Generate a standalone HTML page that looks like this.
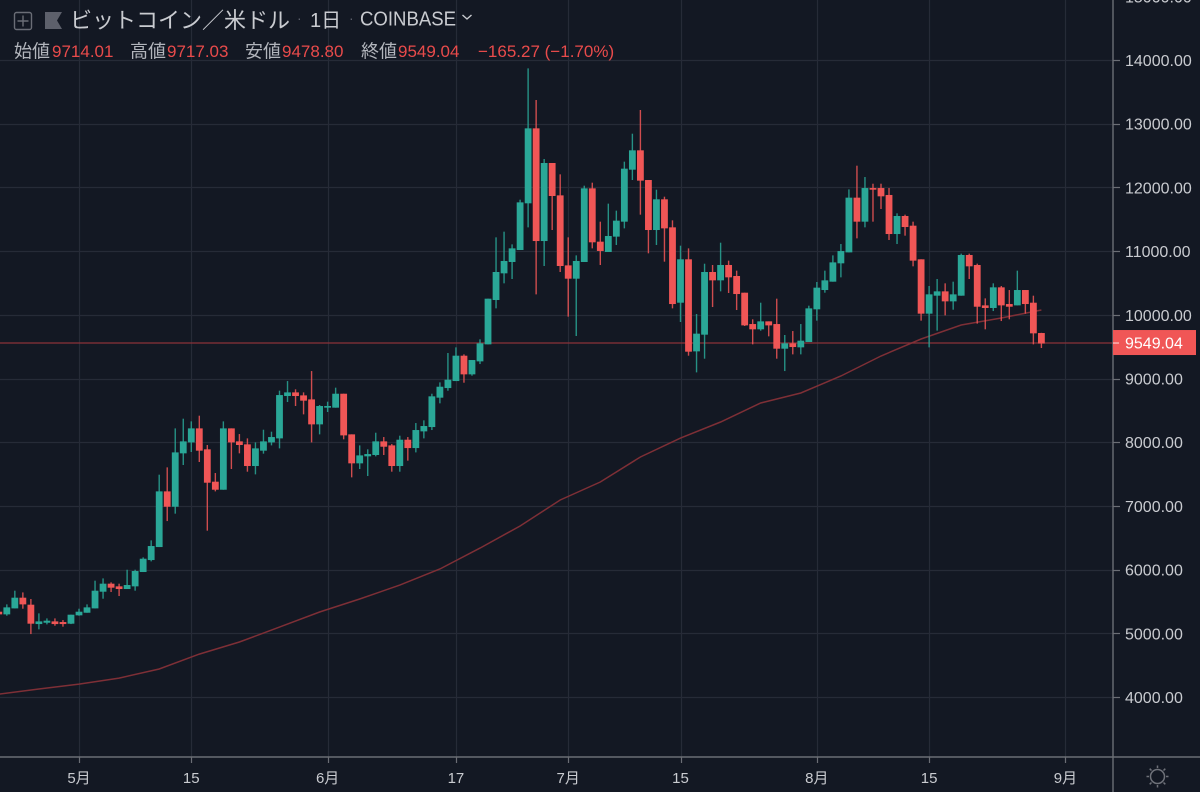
<!DOCTYPE html>
<html lang="ja">
<head>
<meta charset="utf-8">
<title>ビットコイン／米ドル 1日 COINBASE</title>
<style>
html,body{margin:0;padding:0;background:#131823;width:1200px;height:792px;overflow:hidden}
svg{display:block;font-family:"Liberation Sans","Noto Sans CJK JP",sans-serif;filter:blur(0.35px)}
</style>
</head>
<body>
<svg id="chart" width="1200" height="792" viewBox="0 0 1200 792" xmlns="http://www.w3.org/2000/svg">
  <rect x="0" y="0" width="1200" height="792" fill="#131823"/>
  <defs><clipPath id="pane-clip"><rect x="0" y="0" width="1113" height="757"/></clipPath></defs>
  <g id="grid"></g>
  <g id="plot" clip-path="url(#pane-clip)"></g>
  <g id="axes"></g>

  <g>
    <g fill="none" stroke="#6a6d76" stroke-width="1.4">
      <rect x="14.500" y="12.500" width="17" height="17" rx="2"/>
      <path d="M23 15.500V26.500M17.500 21H28.500"/>
    </g>
    <path d="M45 12H62L57 20.500L62 29H45Z" fill="#5d606b"/>
    <text x="70" y="28" font-size="22" fill="#c9cbd0">ビットコイン／米ドル</text>
    <text x="297" y="23" font-size="14" fill="#5d606b">·</text>
    <text x="310" y="27" font-size="20" fill="#c9cbd0">1日</text>
    <text x="349" y="23" font-size="14" fill="#5d606b">·</text>
    <text x="360" y="25.500" font-size="20" textLength="96" lengthAdjust="spacingAndGlyphs" fill="#c9cbd0">COINBASE</text>
    <path d="M462.500 15L467 19L471.500 15" fill="none" stroke="#c9cbd0" stroke-width="1.4"/>
    <g font-size="17">
      <text x="14" y="57.500" font-size="18" fill="#b2b5bc">始値</text>
      <text x="52" y="57" fill="#e94b4b">9714.01</text>
      <text x="130" y="57.500" font-size="18" fill="#b2b5bc">高値</text>
      <text x="167" y="57" fill="#e94b4b">9717.03</text>
      <text x="245" y="57.500" font-size="18" fill="#b2b5bc">安値</text>
      <text x="282" y="57" fill="#e94b4b">9478.80</text>
      <text x="361" y="57.500" font-size="18" fill="#b2b5bc">終値</text>
      <text x="398" y="57" fill="#e94b4b">9549.04</text>
      <text x="478" y="57" fill="#e94b4b">−165.27 (−1.70%)</text>
    </g>
  </g>

  <g fill="none" stroke="#6e7179" stroke-width="1.5">
    <circle cx="1157.500" cy="776.500" r="7"/>
    <path d="M1157.500 765.500V768M1157.500 785V787.500M1146.500 776.500H1149M1166 776.500H1168.500M1149.700 768.700L1151.500 770.500M1163.500 782.500L1165.300 784.300M1149.700 784.300L1151.500 782.500M1163.500 770.500L1165.300 768.700"/>
  </g>

<script>
var firstDay = -10;
var opens = [5339,5297,5391,5559,5449,5145,5166,5187,5177,5151,
5282,5323,5391,5653,5779,5737,5695,5737,5962,6150,
6354,7228,6987,7825,7997,8217,7888,7380,7254,8217,
8013,7966,7626,7867,7997,8060,8725,8782,8735,8672,
8280,8542,8542,8761,8123,7668,7778,7799,8013,7950,
7626,8039,7908,8170,8238,8699,8850,8960,9358,9065,
9269,9536,10232,10651,10829,11017,11750,12927,11158,12383,
11875,10776,10567,10829,11985,11148,10986,11227,11462,12278,
12582,12116,11331,11813,11373,10190,10871,9426,9688,10672,
10541,10782,10609,10347,9855,9772,9897,9855,9468,9552,
9489,9573,10086,10389,10520,10808,10980,11839,11462,11990,
11990,11881,11268,11551,11399,10871,10018,10300,10368,10211,
10300,10939,10782,10148,10107,10431,10169,10148,10389,10190,9714.01];
var highs = [5365,5454,5669,5642,5538,5313,5234,5234,5208,5292,
5386,5454,5826,5862,5800,5779,5998,5998,6192,6459,
7490,7605,8217,8369,8327,8416,7956,7516,8327,8217,
8128,8060,7997,8196,8165,8809,8960,8830,8782,9117,
8584,8636,8856,8761,8123,7950,7888,8149,8081,7971,
8102,8081,8301,8343,8761,8939,9400,9489,9379,9290,
9615,10253,11216,11305,11106,11807,13869,13372,12446,12383,
12205,11216,10933,12027,12074,11462,11745,11635,12404,12843,
13215,12116,11964,11854,11483,11085,11043,10012,10802,10782,
11132,10850,10693,10347,9929,10190,9897,10253,9683,9745,
9855,10143,10515,10693,10933,11111,11969,12341,12163,12058,
12058,11990,11593,11572,11462,10871,10452,10562,10494,10520,
10960,10960,10803,10258,10494,10452,10389,10693,10389,10300,9717.03];
var lows = [5276,5276,5391,5386,4988,5062,5140,5119,5104,5145,
5276,5323,5391,5543,5648,5585,5695,5669,5962,6129,
6354,6762,6878,7642,7846,7689,6611,7228,7254,7579,
7825,7537,7495,7820,7950,7903,8631,8568,8437,7997,
8123,8474,8542,8045,7448,7579,7469,7778,7799,7537,
7537,7710,7840,8060,8191,8610,8808,8960,8934,9044,
9227,9536,10101,10494,10562,11017,11373,10321,10766,11331,
10672,9971,9667,10829,11043,10782,10986,11096,11357,12116,
11572,10965,11096,10834,10101,9887,9358,9096,9311,10122,
10368,10342,10075,9824,9536,9751,9662,9311,9117,9379,
9379,9573,9908,10347,10520,10588,10980,11200,11373,11462,
11661,11174,11111,11242,10761,9908,9489,9751,9991,10080,
10300,10562,9861,9772,10059,9902,9929,10148,10018,9536,9478.80];
var closes = [5297,5407,5559,5454,5151,5187,5198,5145,5145,5292,
5339,5407,5669,5779,5716,5695,5758,5978,6171,6370,
7228,6987,7840,8013,8217,7867,7364,7254,8217,7997,
7956,7626,7903,8013,8081,8740,8782,8725,8652,8280,
8568,8568,8761,8107,7668,7793,7814,8013,7929,7626,
8039,7908,8191,8254,8720,8871,8981,9358,9065,9290,
9552,10253,10672,10845,11043,11765,12927,11158,12383,11865,
10766,10567,10845,11985,11138,11002,11237,11478,12294,12582,
12106,11331,11813,11357,10169,10871,9421,9704,10672,10541,
10782,10588,10326,9834,9772,9897,9834,9468,9552,9494,
9594,10101,10426,10541,10823,11001,11839,11462,11990,11964,
11860,11268,11551,11378,10850,10018,10321,10368,10211,10321,
10939,10761,10127,10107,10431,10148,10127,10389,10169,9709,9549.04];
var maDays = [-10,-5,0,5,10,15,20,25,30,35,40,45,50,55,60,65,70,75,80,85,90,95,100,105,110,115,120];
var maValues = [4046,4125,4203,4297,4439,4674,4863,5098,5334,5538,5757,6009,6338,6684,7092,7375,7767,8065,8317,8615,8772,9039,9353,9620,9840,9949,10075];
var priceTicks = [4000,5000,6000,7000,8000,9000,10000,11000,12000,13000,14000,15000];
var priceTickLabels = ["4000.00","5000.00","6000.00","7000.00","8000.00","9000.00","10000.00","11000.00","12000.00","13000.00","14000.00","15000.00"];
var timeTickDays = [0,14,31,47,61,75,92,106,123];
var timeTickLabels = ["5月","15","6月","17","7月","15","8月","15","9月"];
var lastPrice = 9549.04;
var lastPriceLabel = "9549.04";

var NS = "http://www.w3.org/2000/svg";
var UP = "#2aa797", DOWN = "#f05656";
function xScale(d){ return 79 + 8.02 * d; }
function yScale(v){ return 60 + (14000 - v) * 0.0637; }
function mk(parent, tag, attrs, text){
  var el = document.createElementNS(NS, tag);
  for (var k in attrs) el.setAttribute(k, attrs[k]);
  if (text !== undefined) el.textContent = text;
  parent.appendChild(el);
  return el;
}
var grid = document.getElementById("grid");
var plot = document.getElementById("plot");
var axes = document.getElementById("axes");
var PANE_R = 1113, PANE_B = 757;

priceTicks.forEach(function(p, i){
  var y = Math.round(yScale(p)) + 0.5;
  var line = mk(grid, "line", {x1:0, x2:PANE_R, y1:y, y2:y, stroke:"#262b37", "stroke-width":1.2});
  
  
  var tick = mk(axes, "line", {x1:PANE_R, x2:PANE_R+7, y1:y, y2:y, stroke:"#6b6e75", "stroke-width":1.2});
  
  
  var label = mk(axes, "text", {x:1125, y:yScale(p)+6, "font-size":16, fill:"#c9cbd0"}, priceTickLabels[i]);
  
  
});
timeTickDays.forEach(function(d, i){
  var x = Math.round(xScale(d)) + 0.5;
  var line = mk(grid, "line", {x1:x, x2:x, y1:0, y2:PANE_B, stroke:"#262b37", "stroke-width":1.2});
  
  
  var tick = mk(axes, "line", {x1:x, x2:x, y1:PANE_B, y2:PANE_B+6, stroke:"#6b6e75", "stroke-width":1.2});
  
  
  var label = mk(axes, "text", {x:xScale(d), y:783, "font-size":15, fill:"#c9cbd0", "text-anchor":"middle"}, timeTickLabels[i]);
  
  
});

var maLine = mk(plot, "polyline", {
  points: maDays.map(function(d, i){ return xScale(d).toFixed(1) + "," + yScale(maValues[i]).toFixed(1); }).join(" "),
  fill:"none", stroke:"#7e2f36", "stroke-width":1.5
});



var priceLine = mk(plot, "line", {x1:0, x2:PANE_R, y1:yScale(lastPrice)-0.5, y2:yScale(lastPrice)-0.5, stroke:"#8a3238", "stroke-width":1.2});



opens.forEach(function(o, i){
  var d = firstDay + i, c = closes[i], up = c >= o, col = up ? UP : DOWN;
  var x = xScale(d);
  var g = mk(plot, "g", {});
  
  
  var wick = mk(g, "line", {x1:x, x2:x, y1:yScale(highs[i]), y2:yScale(lows[i]), stroke:col, "stroke-width":1.4, opacity:0.85});
  
  
  var top = yScale(Math.max(o, c)), bot = yScale(Math.min(o, c));
  var body = mk(g, "rect", {x:x-3.4, y:top, width:6.8, height:Math.max(bot-top, 1.5), fill:col});
  
  
});

var rightBorder = mk(axes, "line", {x1:PANE_R, x2:PANE_R, y1:0, y2:792, stroke:"#6b6e75", "stroke-width":1.4});


var bottomBorder = mk(axes, "line", {x1:0, x2:1200, y1:PANE_B, y2:PANE_B, stroke:"#6b6e75", "stroke-width":1.4});



var yLast = yScale(lastPrice);
var badge = mk(axes, "rect", {x:PANE_R, y:yLast-13.5, width:83, height:25, fill:"#f05656"});


var badgeTick = mk(axes, "line", {x1:PANE_R, x2:PANE_R+6, y1:yLast-0.5, y2:yLast-0.5, stroke:"#ffc9c9", "stroke-width":1.2});


var badgeText = mk(axes, "text", {x:1125, y:yLast+5, "font-size":16, fill:"#ffffff"}, lastPriceLabel);


</script>
</svg>
</body>
</html>
